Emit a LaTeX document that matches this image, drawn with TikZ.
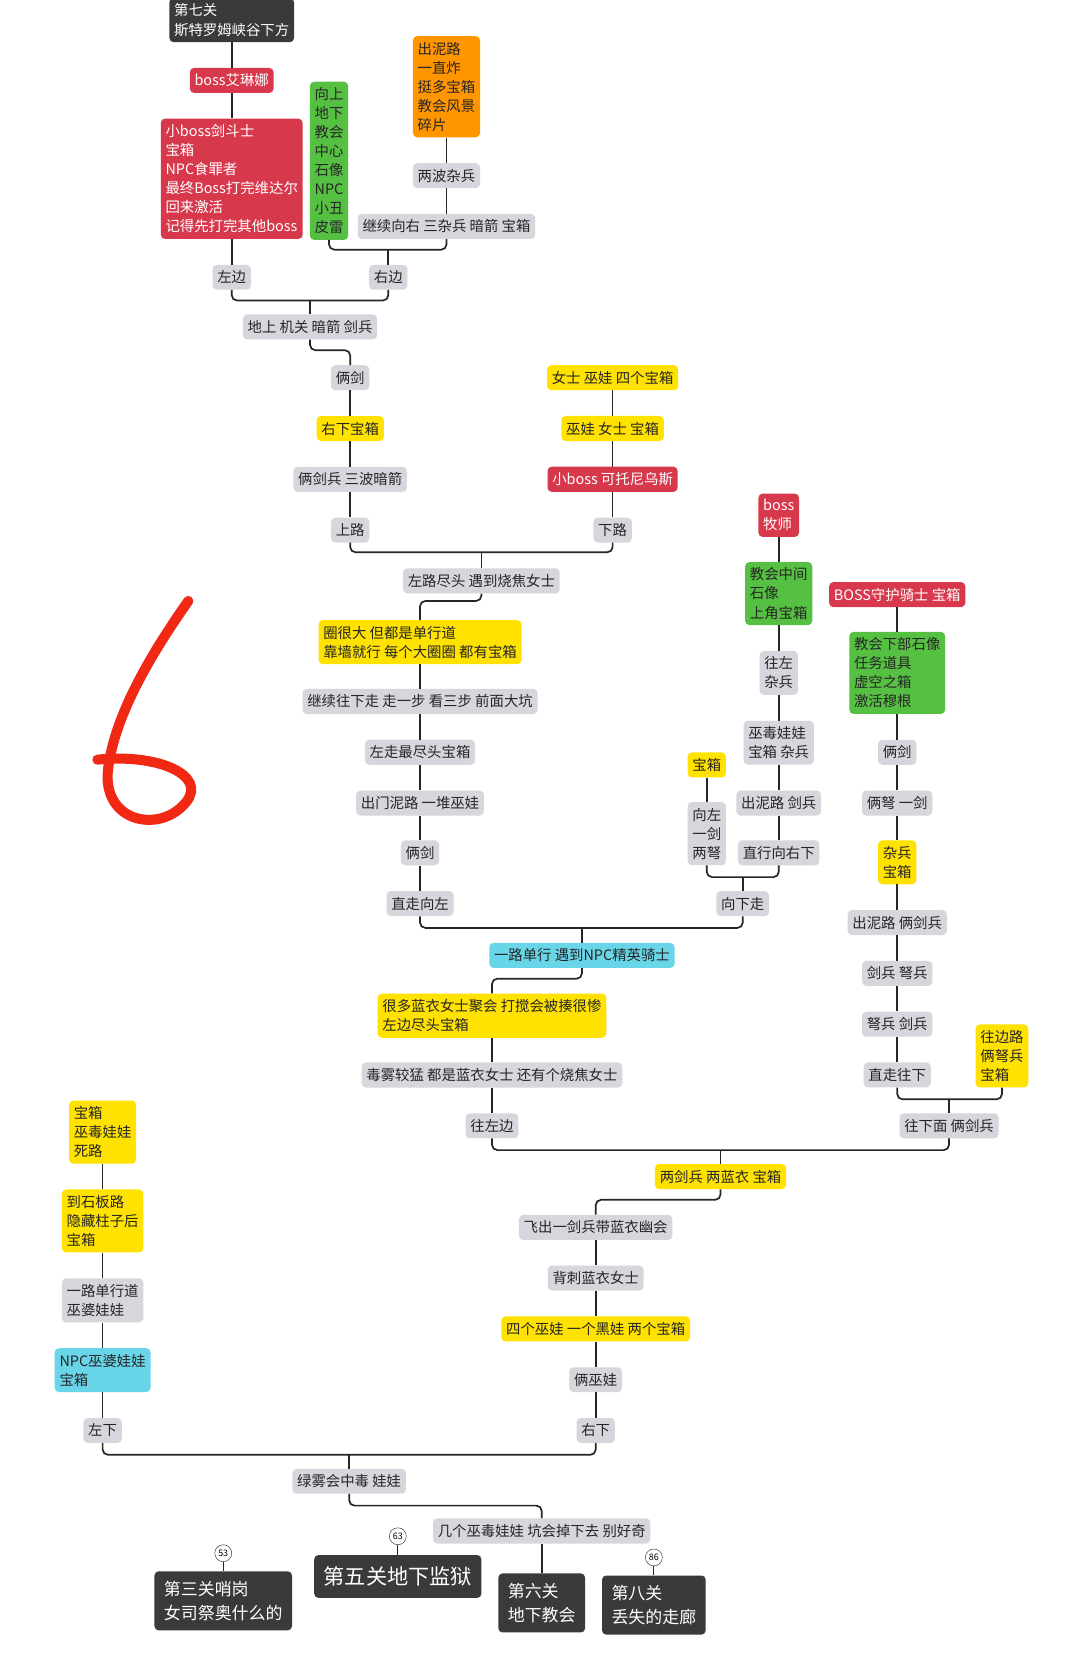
\documentclass[tikz,border=0pt]{standalone}
\usepackage{fontspec}
\setmainfont{Noto Sans CJK SC}
\definecolor{boxgrey}{RGB}{214,214,221}
\definecolor{boxyellow}{RGB}{255,226,0}
\definecolor{boxred}{RGB}{216,56,76}
\definecolor{boxgreen}{RGB}{86,192,66}
\definecolor{boxorange}{RGB}{255,150,0}
\definecolor{boxcyan}{RGB}{104,214,232}
\definecolor{boxdark}{RGB}{58,58,60}
\definecolor{inkred}{RGB}{240,40,20}

\begin{document}
\begin{tikzpicture}[x=1pt,y=-1pt,
    box/.style={rounded corners=4pt,inner xsep=4.5pt,inner ysep=5.5pt,text=black!85,font=\fontsize{13.6}{18}\selectfont,align=left},
    grey/.style={box,fill=boxgrey},
    yel/.style={box,fill=boxyellow},
    redb/.style={box,fill=boxred,text=white},
    grn/.style={box,fill=boxgreen},
    org/.style={box,fill=boxorange},
    cyn/.style={box,fill=boxcyan},
    dark/.style={box,fill=boxdark,text=white},
    stage/.style={dark,font=\fontsize{16}{23}\selectfont,inner sep=9pt},
    badge/.style={circle,draw=black!85,fill=white,inner sep=0pt,minimum size=16pt,font=\fontsize{8.5}{9}\selectfont},
    link/.style={draw=black!85,line width=1.6pt,rounded corners=5pt}]
    \useasboundingbox (0,0) rectangle (1021,1568);
    \fill[white] (0,0) rectangle (1021,1568);

    \draw[inkred,line width=9.5pt,line cap=round,line join=round] (178,568) .. controls (145,615) and (108,675) .. (102,728) .. controls (97,778) and (152,788) .. (176,758) .. controls (196,733) and (150,712) .. (92,718);

    \node[dark](stage7)at(219,19){第七关\\斯特罗姆峡谷下方};
    \node[redb](bossAilin)at(219,76){boss艾琳娜};
    \node[redb](miniboss)at(219,169){小boss剑斗士\\宝箱\\NPC食罪者\\最终Boss打完维达尔\\回来激活\\记得先打完其他boss};
    \node[grn](greenUp)at(311,152){向上\\地下\\教会\\中心\\石像\\NPC\\小丑\\皮雷};
    \node[org](orangeMud)at(422,82){出泥路\\一直炸\\挺多宝箱\\教会风景\\碎片};
    \node[grey](twoWaves)at(422,166){两波杂兵};
    \node[grey](goRight)at(422,214){继续向右 三杂兵 暗箭 宝箱};
    \node[grey](leftSide)at(219,262){左边};
    \node[grey](rightSide)at(367,262){右边};
    \node[grey](ground)at(293,309){地上 机关 暗箭 剑兵};
    \coordinate(jR)at(367,236);
    \coordinate(jG)at(293,284);
    \coordinate(jA)at(331,331);
    \draw[link] (stage7.south) -- (bossAilin.north);
    \draw[link] (bossAilin.south) -- (miniboss.north);
    \draw[link] (miniboss.south) -- (leftSide.north);
    \draw[link] (orangeMud.south) -- (twoWaves.north);
    \draw[link] (twoWaves.south) -- (goRight.north);
    \draw[link] (greenUp.south) |- (jR) -| (goRight.south);
    \draw[link] (jR) -- (rightSide.north);
    \draw[link] (leftSide.south) |- (jG) -| (rightSide.south);
    \draw[link] (jG) -- (ground.north);

    \node[grey](twoSword1)at(331,357){俩剑};
    \node[yel](chestRD)at(331,405){右下宝箱};
    \node[grey](swordArrow)at(331,453){俩剑兵 三波暗箭};
    \node[grey](upRoad)at(331,501){上路};
    \node[yel](ladyFour)at(579,357){女士 巫娃 四个宝箱};
    \node[yel](dollLady)at(579,405){巫娃 女士 宝箱};
    \node[redb](bossKetuo)at(579,453){小boss 可托尼乌斯};
    \node[grey](downRoad)at(579,501){下路};
    \node[grey](roadEnd)at(455,549){左路尽头 遇到烧焦女士};
    \coordinate(jE)at(455,522);
    \coordinate(jF)at(397,568);
    \draw[link] (ground.south) |- (jA) -- (twoSword1.north);
    \draw[link] (twoSword1.south) -- (chestRD.north);
    \draw[link] (chestRD.south) -- (swordArrow.north);
    \draw[link] (swordArrow.south) -- (upRoad.north);
    \draw[link] (ladyFour.south) -- (dollLady.north);
    \draw[link] (dollLady.south) -- (bossKetuo.north);
    \draw[link] (bossKetuo.south) -- (downRoad.north);
    \draw[link] (upRoad.south) |- (jE) -| (downRoad.south);
    \draw[link] (jE) -- (roadEnd.north);

    \node[yel](bigCircle)at(397,607){圈很大 但都是单行道\\靠墙就行 每个大圈圈 都有宝箱};
    \node[grey](goDown)at(397,663){继续往下走 走一步 看三步 前面大坑};
    \node[grey](leftEnd)at(397,711){左走最尽头宝箱};
    \node[grey](mudDolls)at(397,759){出门泥路 一堆巫娃};
    \node[grey](twoSword2)at(397,806){俩剑};
    \node[grey](straightLeft)at(397,854){直走向左};
    \draw[link] (roadEnd.south) |- (jF) -- (bigCircle.north);
    \draw[link] (bigCircle.south) -- (goDown.north);
    \draw[link] (goDown.south) -- (leftEnd.north);
    \draw[link] (leftEnd.south) -- (mudDolls.north);
    \draw[link] (mudDolls.south) -- (twoSword2.north);
    \draw[link] (twoSword2.south) -- (straightLeft.north);

    \node[redb](bossPriest)at(736,487){boss\\牧师};
    \node[grn](churchMid)at(736,561){教会中间\\石像\\上角宝箱};
    \node[grey](leftMob)at(736,636){往左\\杂兵};
    \node[grey](voodoo)at(736,702){巫毒娃娃\\宝箱 杂兵};
    \node[grey](mudSword)at(736,759){出泥路 剑兵};
    \node[grey](rightDown)at(736,806){直行向右下};
    \node[yel](chestL)at(668,723){宝箱};
    \node[grey](leftSwordBow)at(668,788){向左\\一剑\\两弩};
    \node[grey](goDownward)at(702,854){向下走};
    \coordinate(jH)at(702,829);
    \draw[link] (bossPriest.south) -- (churchMid.north);
    \draw[link] (churchMid.south) -- (leftMob.north);
    \draw[link] (leftMob.south) -- (voodoo.north);
    \draw[link] (voodoo.south) -- (mudSword.north);
    \draw[link] (mudSword.south) -- (rightDown.north);
    \draw[link] (chestL.south) -- (leftSwordBow.north);
    \draw[link] (leftSwordBow.south) |- (jH) -| (rightDown.south);
    \draw[link] (jH) -- (goDownward.north);

    \node[cyn](eliteKnight)at(550,903){一路单行 遇到NPC精英骑士};
    \node[yel](blueLadies)at(465,960){很多蓝衣女士聚会 打搅会被揍很惨\\左边尽头宝箱};
    \node[grey](poisonFog)at(465,1016){毒雾较猛 都是蓝衣女士 还有个烧焦女士};
    \node[grey](goLeftSide)at(465,1064){往左边};
    \coordinate(jI)at(550,877);
    \coordinate(jJ)at(465,925);
    \draw[link] (straightLeft.south) |- (jI) -| (goDownward.south);
    \draw[link] (jI) -- (eliteKnight.north);
    \draw[link] (eliteKnight.south) |- (jJ) -- (blueLadies.north);
    \draw[link] (blueLadies.south) -- (poisonFog.north);
    \draw[link] (poisonFog.south) -- (goLeftSide.north);

    \node[redb](bossGuard)at(848,562){BOSS守护骑士 宝箱};
    \node[grn](churchLow)at(848,636){教会下部石像\\任务道具\\虚空之箱\\激活穆根};
    \node[grey](twoSword3)at(848,711){俩剑};
    \node[grey](bowSword)at(848,759){俩弩 一剑};
    \node[yel](mobChest)at(848,815){杂兵\\宝箱};
    \node[grey](mudTwoSword)at(848,872){出泥路 俩剑兵};
    \node[grey](swordBow)at(848,920){剑兵 弩兵};
    \node[grey](bowSword2)at(848,968){弩兵 剑兵};
    \node[grey](straightDown)at(848,1016){直走往下};
    \node[yel](sidePath)at(947,998){往边路\\俩弩兵\\宝箱};
    \node[grey](downTwoSword)at(897,1064){往下面 俩剑兵};
    \coordinate(jK)at(897,1039);
    \draw[link] (bossGuard.south) -- (churchLow.north);
    \draw[link] (churchLow.south) -- (twoSword3.north);
    \draw[link] (twoSword3.south) -- (bowSword.north);
    \draw[link] (bowSword.south) -- (mobChest.north);
    \draw[link] (mobChest.south) -- (mudTwoSword.north);
    \draw[link] (mudTwoSword.south) -- (swordBow.north);
    \draw[link] (swordBow.south) -- (bowSword2.north);
    \draw[link] (bowSword2.south) -- (straightDown.north);
    \draw[link] (straightDown.south) |- (jK) -| (sidePath.south);
    \draw[link] (jK) -- (downTwoSword.north);

    \node[yel](twoBlue)at(681,1112){两剑兵 两蓝衣 宝箱};
    \node[grey](flySword)at(563,1160){飞出一剑兵带蓝衣幽会};
    \node[grey](backstab)at(563,1208){背刺蓝衣女士};
    \node[yel](fourDolls)at(563,1256){四个巫娃 一个黑娃 两个宝箱};
    \node[grey](twoWitch)at(563,1304){俩巫娃};
    \node[grey](rightLow)at(563,1352){右下};
    \coordinate(jL)at(681,1087);
    \coordinate(jM)at(563,1134);
    \draw[link] (goLeftSide.south) |- (jL) -| (downTwoSword.south);
    \draw[link] (jL) -- (twoBlue.north);
    \draw[link] (twoBlue.south) |- (jM) -- (flySword.north);
    \draw[link] (flySword.south) -- (backstab.north);
    \draw[link] (backstab.south) -- (fourDolls.north);
    \draw[link] (fourDolls.south) -- (twoWitch.north);
    \draw[link] (twoWitch.south) -- (rightLow.north);

    \node[yel](deadEnd)at(97,1070){宝箱\\巫毒娃娃\\死路};
    \node[yel](slabRoad)at(97,1154){到石板路\\隐藏柱子后\\宝箱};
    \node[grey](witchRoad)at(97,1229){一路单行道\\巫婆娃娃};
    \node[cyn](npcWitch)at(97,1295){NPC巫婆娃娃\\宝箱};
    \node[grey](leftLow)at(97,1352){左下};
    \node[grey](greenFog)at(330,1400){绿雾会中毒 娃娃};
    \node[grey](pitDolls)at(512,1447){几个巫毒娃娃 坑会掉下去 别好奇};
    \coordinate(jN)at(330,1375);
    \coordinate(jO)at(512,1423);
    \draw[link] (deadEnd.south) -- (slabRoad.north);
    \draw[link] (slabRoad.south) -- (witchRoad.north);
    \draw[link] (witchRoad.south) -- (npcWitch.north);
    \draw[link] (npcWitch.south) -- (leftLow.north);
    \draw[link] (leftLow.south) |- (jN) -| (rightLow.south);
    \draw[link] (jN) -- (greenFog.north);
    \draw[link] (greenFog.south) |- (jO) -- (pitDolls.north);

    \node[stage](stage3)at(211,1513){第三关哨岗\\女司祭奥什么的};
    \node[stage,font=\fontsize{20}{24}\selectfont,inner ysep=11pt](stage5)at(376,1490){第五关地下监狱};
    \node[stage](stage6)at(512,1515){第六关\\地下教会};
    \node[stage](stage8)at(618,1517){第八关\\丢失的走廊};
    \node[badge](b53)at(211,1468){53};
    \node[badge](b63)at(376,1452){63};
    \node[badge](b86)at(618,1472){86};
    \draw[link] (pitDolls.south) -- (stage6.north);
    \draw[draw=black!85,line width=1pt] (b53.south) -- (stage3.north);
    \draw[draw=black!85,line width=1pt] (b63.south) -- (stage5.north);
    \draw[draw=black!85,line width=1pt] (b86.south) -- (stage8.north);
\end{tikzpicture}
\end{document}
